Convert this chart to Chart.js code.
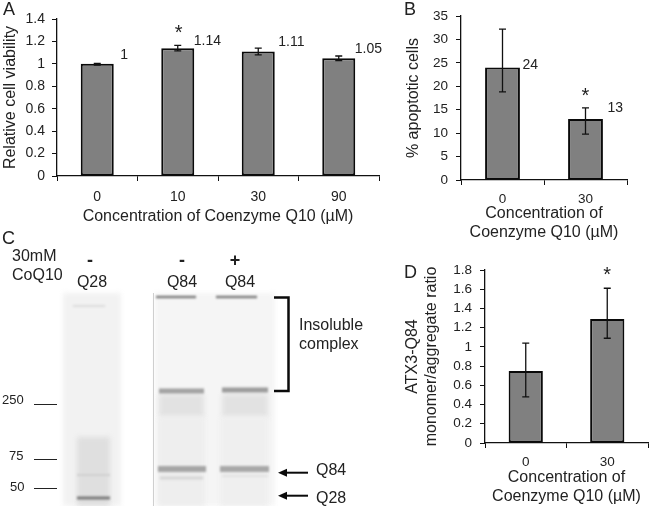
<!DOCTYPE html>
<html><head><meta charset="utf-8">
<style>html,body{margin:0;padding:0;background:#fff;width:650px;height:506px;overflow:hidden}
.p{position:absolute}</style>
<script src="https://cdn.jsdelivr.net/npm/chart.js@4"></script></head>
<body>
<div class="p" style="left:0;top:0;width:385px;height:226px"><canvas id="a"></canvas></div>
<div class="p" style="left:380px;top:0;width:270px;height:242px"><canvas id="b"></canvas></div>
<div class="p" style="left:0;top:230px;width:380px;height:276px"><canvas id="c"></canvas></div>
<div class="p" style="left:380px;top:250px;width:270px;height:256px"><canvas id="d"></canvas></div>
<script>
const FONT='"Liberation Sans", Arial, sans-serif';
const TXT='#222';
// Panel A
const catA=['0','10','30','90'];
const valA=[1,1.14,1.11,1.05];
const hiA=[1.003,1.165,1.14,1.07];
const loA=[0.99,1.115,1.08,1.03];
const lblA=['1','1.14','1.11','1.05'];
const starA=[null,'*',null,null];
// Panel B
const catB=['0','30'];
const valB=[24,13];
const hiB=[32.2,15.4];
const loB=[18.8,9.8];
const lblB=['24','13'];
const starB=[null,'*'];
// Panel D
const catD=['0','30'];
const valD=[0.75,1.29];
const hiD=[1.04,1.61];
const loD=[0.48,1.09];
const starD=[null,'*'];
// Panel C (gel, in scale units)
const gelMarkers=[['250',404],['75',459],['50',488]];
const gelSmears=[[63,121,293,506,'#f2f2f2'],[155,275,293,506,'#f5f5f5'],[77,110,437,506,'#dfdfdf'],
 [159,204,394,417,'#e2e2e2'],[222,268,394,417,'#e2e2e2'],[158,205,417,506,'#eeeeee'],[220,268,417,506,'#efefef']];
const gelBands=[[73,105,306,1.2,'#cfcfcf'],[77,110,475,1.5,'#cacaca'],[77,110,498,3,'#7a7a7a'],
 [156,196,297,2.5,'#7d7d7d'],[216,257,297,2.5,'#7d7d7d'],
 [159,204,391,5,'#a2a2a2'],[222,268,390,5,'#9c9c9c'],
 [158,206,469,6,'#a6a6a6'],[220,269,469,6,'#a8a8a8'],[160,203,478,3,'#d6d6d6'],[222,268,476,2,'#e2e2e2']];

function barPlugin(hi,lo,labels,stars,letter,labelPos,starPos){return {id:'ann'+letter,afterDatasetsDraw(ch){
  const c=ch.ctx,x=ch.scales.x,y=ch.scales.y;
  c.save();c.strokeStyle='#111';c.lineWidth=1.3;
  hi.forEach((h,i)=>{const px=x.getPixelForValue(i),a=y.getPixelForValue(h),b=y.getPixelForValue(lo[i]);
    c.beginPath();c.moveTo(px,a);c.lineTo(px,b);c.moveTo(px-3.5,a);c.lineTo(px+3.5,a);c.moveTo(px-3.5,b);c.lineTo(px+3.5,b);c.stroke();});
  c.fillStyle=TXT;c.textBaseline='middle';c.textAlign='left';
  c.font='14px '+FONT;
  if(labels)labels.forEach((t,i)=>{const o=labelPos[i];c.fillText(t,x.getPixelForValue(i)+o[0],y.getPixelForValue(valFor(ch,i))+o[1]);});
  c.textAlign='center';c.font='20px '+FONT;
  stars.forEach((t,i)=>{if(t){const o=starPos;c.fillText(t,x.getPixelForValue(i)+o[0],y.getPixelForValue(hi[i])+o[1]);}});
  c.restore();
  const l=letter.split('|');
  c.save();c.fillStyle=TXT;c.font='18px '+FONT;c.textBaseline='middle';c.textAlign='left';c.fillText(l[0],+l[1],+l[2]);c.restore();
}};}
function valFor(ch,i){return ch.data.datasets[0].data[i];}

function mk(id,cats,vals,o,plugin){
 return new Chart(document.getElementById(id),{type:'bar',
  data:{labels:cats,datasets:[{data:vals,backgroundColor:'#808080',borderColor:'#0a0a0a',borderWidth:2,borderSkipped:false,
    barPercentage:o.bar,categoryPercentage:1}]},
  plugins:[plugin],
  options:{responsive:true,maintainAspectRatio:false,animation:false,
   layout:{padding:o.pad},
   plugins:{legend:{display:false},tooltip:{enabled:false},title:{display:false}},
   scales:{
    x:{offset:true,border:{color:'#111',width:1.3},
      grid:{drawOnChartArea:false,drawTicks:true,tickLength:5,color:'#111',offset:true},
      ticks:{font:{family:FONT,size:o.fs},color:TXT,padding:o.xtickPad,maxRotation:0},
      title:{display:true,text:o.xt,font:{family:FONT,size:o.tfs,lineHeight:1.2},color:TXT,padding:{top:0,bottom:0}},
      afterFit(s){s.height=o.xh;}},
    y:{min:o.min,max:o.max,border:{color:'#111',width:1.3},
      grid:{drawOnChartArea:false,drawTicks:true,tickLength:5,color:'#111'},
      ticks:{stepSize:o.step,font:{family:FONT,size:o.fs},color:TXT,padding:o.ytickPad,autoSkip:false,
        callback:v=>String(+(+v).toFixed(1))},
      title:{display:true,text:o.yt,font:{family:FONT,size:o.ytfs||o.tfs,lineHeight:1.2},color:TXT,padding:{top:0,bottom:0}},
      afterFit(s){s.width=o.yw;}}
   }}});
}
mk('a',catA,valA,{pad:{left:1,top:19,right:6,bottom:0},bar:0.41,fs:14,tfs:16,ytfs:16,xt:'Concentration of Coenzyme Q10 (µM)',yt:'Relative cell viability',min:0,max:1.4,step:0.2,xh:50,yw:56,xtickPad:8,ytickPad:7},
  barPlugin(hiA,loA,lblA,starA,'A|3|10',[[23,-9],[16,-7],[20,-9],[16,-9]],[1,-12]));
mk('b',catB,valB,{pad:{left:24,top:13,right:23,bottom:0},bar:0.42,fs:13.5,tfs:16,xt:['Concentration of','Coenzyme Q10 (µM)'],yt:'% apoptotic cells',min:0,max:35,step:5,xh:62,yw:57,xtickPad:6,ytickPad:8},
  barPlugin(hiB,loB,lblB,starB,'B|24|10',[[20,-2],[22,-11]],[0,-11]));
mk('d',catD,valD,{pad:{left:23,top:20,right:2,bottom:0},bar:0.42,fs:13.5,tfs:16,xt:['Concentration of','Coenzyme Q10 (µM)'],yt:['ATX3-Q84','monomer/aggregate ratio'],min:0,max:1.8,step:0.2,xh:63,yw:82,xtickPad:6,ytickPad:8},
  barPlugin(hiD,loD,null,starD,'D|24|23',null,[0,-13]));

// Panel C: gel image and annotations on hidden linear scales in page units
const gelPlugin={id:'gel',afterDraw(ch){
  const c=ch.ctx,X=v=>ch.scales.x.getPixelForValue(v),Y=v=>ch.scales.y.getPixelForValue(v);
  const yy=v=>Y(v-230);
  c.save();
  c.filter='blur(2.5px)';
  gelSmears.forEach(s=>{c.fillStyle=s[4];c.fillRect(X(s[0]),yy(s[2]),X(s[1])-X(s[0]),yy(s[3])-yy(s[2]));});
  c.filter='blur(1.2px)';
  gelBands.forEach(b=>{c.fillStyle=b[4];c.fillRect(X(b[0]),yy(b[2]-b[3]/2),X(b[1])-X(b[0]),yy(b[2]+b[3]/2)-yy(b[2]-b[3]/2));});
  c.filter='none';
  c.fillStyle='#cfcfcf';c.fillRect(X(153),yy(293),1,yy(506)-yy(293));
  c.strokeStyle='#222';c.lineWidth=1;
  gelMarkers.forEach(m=>{c.beginPath();c.moveTo(X(34),yy(m[1])+.5);c.lineTo(X(57),yy(m[1])+.5);c.stroke();});
  c.strokeStyle='#0a0a0a';c.lineWidth=2.5;c.lineJoin='miter';
  c.beginPath();c.moveTo(X(274),yy(297.5));c.lineTo(X(288.5),yy(297.5));c.lineTo(X(288.5),yy(391));c.lineTo(X(274),yy(391));c.stroke();
  [472.7,495.7].forEach(a=>{c.lineWidth=2;c.beginPath();c.moveTo(X(308),yy(a));c.lineTo(X(284),yy(a));c.stroke();
    c.fillStyle='#0a0a0a';c.beginPath();c.moveTo(X(278),yy(a));c.lineTo(X(287),yy(a-4));c.lineTo(X(287),yy(a+4));c.closePath();c.fill();});
  c.fillStyle=TXT;c.textBaseline='middle';
  const t=(s,x,y,al,f)=>{c.textAlign=al;c.font=f+'px '+FONT;c.fillText(s,X(x),yy(y));};
  t('C',2,239,'left',18);
  t('30mM',12,257,'left',16);t('CoQ10',12,276,'left',16);
  t('-',90,261,'center','bold 18');t('-',182,261,'center','bold 18');t('+',235,261,'center','bold 18');
  t('Q28',92,283,'center',16);t('Q84',182,283,'center',16);t('Q84',240,283,'center',16);
  t('Insoluble',299,326,'left',16);t('complex',299,345,'left',16);
  t('250',2,400,'left',13);t('75',9,456,'left',13);t('50',10,487,'left',13);
  t('Q84',316,471,'left',16);t('Q28',316,499,'left',16);
  c.restore();
}};
new Chart(document.getElementById('c'),{type:'scatter',data:{datasets:[{data:[]}]},plugins:[gelPlugin],
 options:{responsive:true,maintainAspectRatio:false,animation:false,layout:{padding:0},
  plugins:{legend:{display:false},tooltip:{enabled:false}},
  scales:{x:{display:false,min:0,max:380},y:{display:false,reverse:true,min:0,max:276}}}});
</script></body></html>
